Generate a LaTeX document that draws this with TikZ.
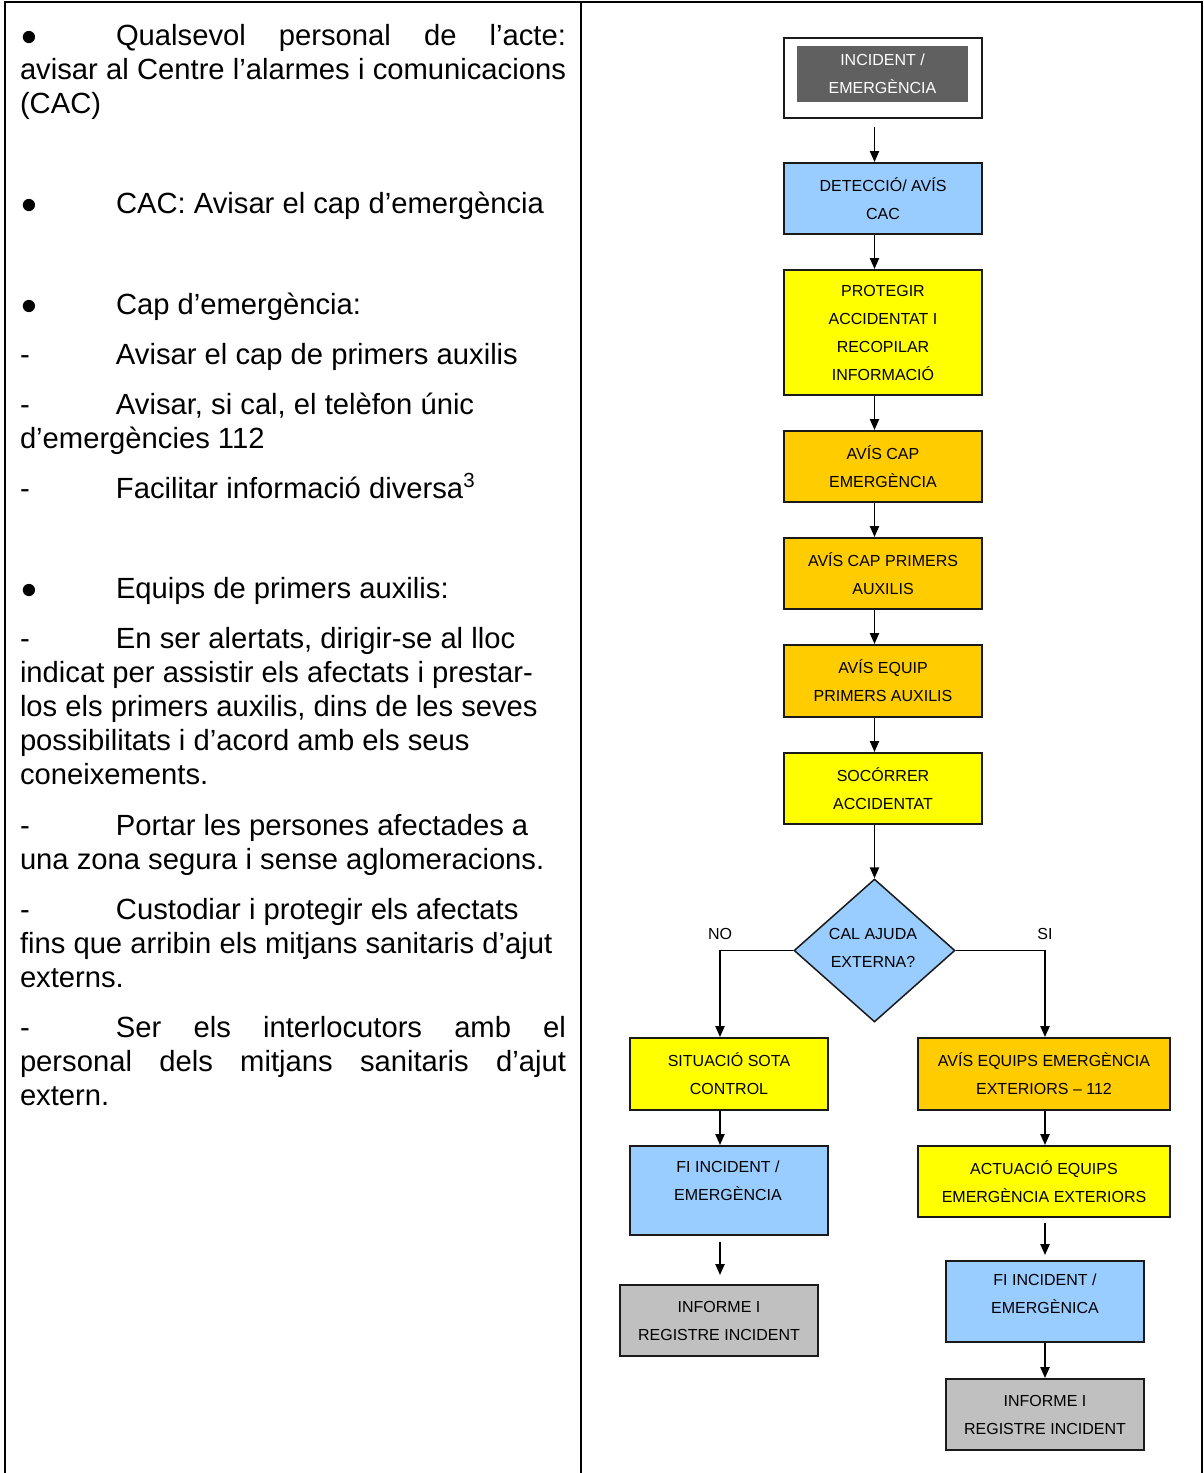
\documentclass[tikz,border=0pt]{standalone}
\usepackage{fontspec}
\setmainfont{Liberation Sans}
\usetikzlibrary{shapes.geometric,arrows.meta}
\definecolor{fblue}{HTML}{99CCFF}
\definecolor{fyellow}{HTML}{FFFF00}
\definecolor{forange}{HTML}{FFCC00}
\definecolor{fgray}{HTML}{C0C0C0}
\definecolor{fdark}{HTML}{606060}
\definecolor{fline}{HTML}{1A1A1A}
\newcommand\fcsize{\fontsize{8}{14}\selectfont}
\newcommand\txsize{\fontsize{14.6}{17}\selectfont}
\newcommand\bul{\makebox[48pt][l]{\hspace{0.5pt}\smash{\raisebox{-0.27em}{\scalebox{1.55}{\textbullet}}}}}
\newcommand\dsh{\makebox[48pt][l]{-}}
\begin{document}
\begin{tikzpicture}[x=0.5pt,y=-0.5pt,
  ln/.style={anchor=base west,inner sep=0pt,outer sep=0pt,font=\txsize},
  box/.style={draw=fline,line width=1pt,inner sep=0pt,align=center,font=\fcsize,text=black,minimum width=99pt,minimum height=35.5pt},
  ftxt/.style={inner sep=0pt,align=center,font=\fcsize,text=black},
  arr/.style={-{Triangle[length=5.5pt,width=4.6pt]},line width=0.85pt,draw=black},
  tbl/.style={line width=1pt,draw=black}]
\useasboundingbox (0,0) rectangle (1204,1473);
% table frame
\draw[tbl] (5,1473) -- (5,2) -- (1202,2) -- (1202,1473);
\draw[tbl] (581,2) -- (581,1473);
% left column text
\node[ln] (t1) at (20,45) {\makebox[273pt][l]{\bul Qualsevol\hfill personal\hfill de\hfill l’acte:}};
\node[ln] (t2) at (20,79) {\makebox[273pt][s]{avisar al Centre l’alarmes i comunicacions}};
\node[ln] (t3) at (20,113) {(CAC)};
\node[ln] (t4) at (20,213) {\bul CAC: Avisar el cap d’emergència};
\node[ln] (t5) at (20,314) {\bul Cap d’emergència:};
\node[ln] (t6) at (20,364) {\dsh Avisar el cap de primers auxilis};
\node[ln] (t7) at (20,414) {\dsh Avisar, si cal, el telèfon únic};
\node[ln] (t8) at (20,448) {d’emergències 112};
\node[ln] (t9) at (20,498) {\dsh Facilitar informació diversa\textsuperscript{3}};
\node[ln] (t10) at (20,598) {\bul Equips de primers auxilis:};
\node[ln] (t11) at (20,648) {\dsh En ser alertats, dirigir-se al lloc};
\node[ln] (t12) at (20,682) {indicat per assistir els afectats i prestar-};
\node[ln] (t13) at (20,716) {los els primers auxilis, dins de les seves};
\node[ln] (t14) at (20,750) {possibilitats i d’acord amb els seus};
\node[ln] (t15) at (20,784) {coneixements.};
\node[ln] (t16) at (20,835) {\dsh Portar les persones afectades a};
\node[ln] (t17) at (20,869) {una zona segura i sense aglomeracions.};
\node[ln] (t18) at (20,919) {\dsh Custodiar i protegir els afectats};
\node[ln] (t19) at (20,953) {fins que arribin els mitjans sanitaris d’ajut};
\node[ln] (t20) at (20,987) {externs.};
\node[ln] (t21) at (20,1037) {\makebox[273pt][l]{\dsh Ser\hfill els\hfill interlocutors\hfill amb\hfill el}};
\node[ln] (t22) at (20,1071) {\makebox[273pt][l]{personal\hfill dels\hfill mitjans\hfill sanitaris\hfill d’ajut}};
\node[ln] (t23) at (20,1105) {extern.};
% flowchart
\coordinate (mx) at (874.5,0);
\coordinate (lx) at (720,0);
\coordinate (rx) at (1045,0);
\node[box,fill=white,minimum height=40pt] (b0) at (883,78) {};
\node[box,draw=none,fill=fdark,text=white,minimum width=85.5pt,minimum height=28pt] (b0i) at (882.5,74) {INCIDENT /\\EMERGÈNCIA};
\node[box,fill=fblue] (b1) at (883,198.5) {DETECCIÓ/ AVÍS\\CAC};
\node[box,fill=fyellow,minimum height=62.5pt] (b2) at (883,332.5) {PROTEGIR\\ACCIDENTAT I\\RECOPILAR\\INFORMACIÓ};
\node[box,fill=forange] (b3) at (883,466.5) {AVÍS CAP\\EMERGÈNCIA};
\node[box,fill=forange] (b4) at (883,573.5) {AVÍS CAP PRIMERS\\AUXILIS};
\node[box,fill=forange,minimum height=36pt] (b5) at (883,681) {AVÍS EQUIP\\PRIMERS AUXILIS};
\node[box,fill=fyellow] (b6) at (883,788.5) {SOCÓRRER\\ACCIDENTAT};
\node[diamond,draw=fline,line width=0.75pt,fill=fblue,inner sep=0pt,minimum width=80.5pt,minimum height=71.5pt] (d) at (874.5,950.5) {};
\node[ftxt] (dt) at (873,948) {CAL AJUDA\\EXTERNA?};
\node[ftxt] (no) at (720,934) {NO};
\node[ftxt] (si) at (1045,934) {SI};
\node[box,fill=fyellow,minimum height=36pt] (l1) at (729,1074) {SITUACIÓ SOTA\\CONTROL};
\node[box,fill=forange,minimum width=126pt,minimum height=36pt] (r1) at (1044,1074) {AVÍS EQUIPS EMERGÈNCIA\\EXTERIORS – 112};
\node[box,fill=fblue,minimum height=44.5pt] (l2) at (729,1190.5) {};
\node[ftxt] (l2t) at (728,1180.5) {FI INCIDENT /\\EMERGÈNCIA};
\node[box,fill=fgray] (l3) at (719,1320.5) {INFORME I\\REGISTRE INCIDENT};
\node[box,fill=fyellow,minimum width=126pt] (r2) at (1044,1181.5) {ACTUACIÓ EQUIPS\\EMERGÈNCIA EXTERIORS};
\node[box,fill=fblue,minimum height=40.5pt] (r3) at (1045,1301.5) {};
\node[ftxt] (r3t) at (1045,1293.5) {FI INCIDENT /\\EMERGÈNICA};
\node[box,fill=fgray] (r4) at (1045,1414.5) {INFORME I\\REGISTRE INCIDENT};
% connectors
\draw[arr,shorten <=4pt] (b0.south -| mx) -- (b1.north -| mx);
\draw[arr] (b1.south -| mx) -- (b2.north -| mx);
\draw[arr] (b2.south -| mx) -- (b3.north -| mx);
\draw[arr] (b3.south -| mx) -- (b4.north -| mx);
\draw[arr] (b4.south -| mx) -- (b5.north -| mx);
\draw[arr] (b5.south -| mx) -- (b6.north -| mx);
\draw[arr] (b6.south -| mx) -- (d.north);
\draw[arr] (d.west) -| (l1.north -| lx);
\draw[arr] (d.east) -| (r1.north -| rx);
\draw[arr] (l1.south -| lx) -- (l2.north -| lx);
\draw[arr,shorten <=3pt,shorten >=4.5pt] (l2.south -| lx) -- (l3.north -| lx);
\draw[arr] (r1.south -| rx) -- (r2.north -| rx);
\draw[arr,shorten <=2.5pt,shorten >=2.5pt] (r2.south -| rx) -- (r3.north -| rx);
\draw[arr] (r3.south -| rx) -- (r4.north -| rx);
\end{tikzpicture}
\end{document}
